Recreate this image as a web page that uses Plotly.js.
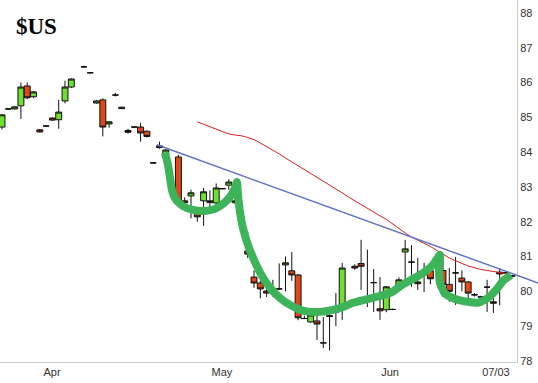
<!DOCTYPE html>
<html>
<head>
<meta charset="utf-8">
<script src="https://cdn.plot.ly/plotly-3.0.1.min.js"></script>
<style>html,body{margin:0;padding:0;background:#fff;}#chart{width:538px;height:383px;}</style>
</head>
<body>
<div id="chart"></div>
<script>
// trading-day sequence numbers (gaps = no session)
const day = [0,1,2,3,4,5,6,7,8,9,10,11,13,14,15,16,17,18,19,20,21,22,23,24,25,26,28,29,30,31,32,33,34,35,36,37,38,39,40,41,42,43,44,45,46,47,48,49,50,51,52,53,54,56,57,58,59,60,61,62,63,64,65,66,67,68,69,70,71,72,73,74,75,76,77,78,79,80,81];
const open = [84.72,85.24,85.24,85.33,85.90,85.59,84.64,84.75,84.98,84.93,85.47,85.87,86.45,86.28,85.41,85.50,84.81,85.64,85.29,84.62,84.72,84.72,84.60,83.69,84.18,83.95,83.86,82.60,82.74,82.25,82.60,82.55,82.54,82.95,83.05,82.55,82.15,81.16,80.41,80.24,80.01,80.00,80.07,80.76,80.59,80.47,79.22,79.12,79.15,78.52,79.30,79.40,79.50,80.72,80.80,79.85,80.25,79.50,79.47,79.48,80.18,81.13,80.84,80.27,80.50,80.59,80.90,80.60,80.20,80.53,80.38,80.27,79.90,79.84,80.12,79.70,80.55,80.53,80.44];
const high = [85.10,85.26,85.31,86.00,86.00,85.75,84.66,84.77,85.00,85.50,86.05,86.12,86.48,86.30,85.49,85.55,84.89,85.70,85.30,84.67,84.74,84.84,84.62,83.71,84.30,84.08,83.92,82.70,82.92,82.42,82.97,82.90,83.10,82.97,83.22,83.20,82.30,81.70,80.60,80.30,80.33,80.33,80.80,81.00,81.13,80.50,79.30,79.35,79.30,79.26,79.35,79.95,80.82,80.78,81.48,81.20,80.64,80.41,80.15,79.50,80.40,81.48,81.33,80.96,80.82,80.70,81.00,80.90,80.67,80.99,80.60,80.30,79.95,79.87,80.33,79.84,80.67,80.56,80.47];
const low = [84.65,85.22,85.23,84.95,85.52,85.55,84.56,84.73,84.90,84.67,85.40,85.84,86.42,86.26,85.39,84.45,84.70,85.60,85.24,84.53,84.70,84.30,84.42,83.67,84.10,83.93,82.45,82.40,82.10,82.00,81.88,82.35,82.45,82.93,82.92,82.50,81.85,80.96,80.10,79.80,79.84,79.85,80.04,80.00,80.30,79.17,79.20,79.10,78.60,78.37,78.30,79.00,79.18,80.62,80.04,79.55,79.41,79.18,79.40,79.46,80.10,80.33,80.13,80.04,79.98,80.20,80.60,79.84,79.70,79.61,80.00,79.75,79.85,79.80,79.41,79.38,79.60,80.50,80.42];
const close = [85.07,85.24,85.30,85.87,85.56,85.73,84.58,84.75,84.92,85.15,85.87,86.10,86.45,86.28,85.47,84.72,84.87,85.64,85.25,84.57,84.72,84.55,84.45,83.69,84.13,84.06,82.50,82.55,82.83,82.14,82.86,82.60,82.97,82.95,83.14,82.60,82.05,81.07,80.24,80.07,79.95,80.00,80.07,80.82,80.47,79.24,79.22,79.32,79.06,78.52,79.28,79.50,80.67,80.67,80.72,79.75,80.25,79.44,80.13,79.48,80.33,81.22,80.84,80.22,80.50,80.36,80.80,80.20,80.00,80.53,80.27,79.95,79.90,79.84,80.12,79.66,80.50,80.53,80.44];

// moving average (red)
const maDay = [31,32,33,34,35,36,37,38,39,40,41,42,43,44,45,46,47,48,49,50,51,52,53,54,55,56,57,58,59,60,61,62,63,64,65,66,67,68,69,70,71,72,73,74,75,76,77,78,79,80];
const maVal = [84.87,84.80,84.71,84.64,84.57,84.52,84.49,84.47,84.42,84.36,84.26,84.16,84.06,83.95,83.83,83.72,83.60,83.50,83.40,83.29,83.17,83.06,82.94,82.83,82.71,82.60,82.48,82.37,82.27,82.17,82.07,81.94,81.79,81.68,81.56,81.48,81.38,81.29,81.19,81.07,80.96,80.87,80.80,80.73,80.67,80.63,80.60,80.57,80.54,80.51];

// blue trend line (drawn beyond the right axis up to trendEnd)
const trendX = [24.6, 81.75];
const trendY = [84.21, 80.46];
const trendEnd = 85.1;

// green hand-drawn cup & handle
const cupX = [25.87,26.35,26.67,26.98,27.62,28.73,30.32,32.22,33.81,35.08,36.19,36.98,37.30,37.46,37.78,38.25,39.05,40.16,41.27,42.54,44.13,45.71,47.30,48.89,50.48,52.54,54.13,55.71,58.10,60.00,61.90,63.49,65.56,67.14,68.41,69.52,69.37,69.52,70.32,71.90,73.97,75.56,77.14,78.57,79.52,80.79];
const cupY = [83.98,83.63,83.26,82.91,82.63,82.45,82.34,82.31,82.37,82.51,82.71,82.97,83.14,82.77,82.28,81.82,81.33,80.84,80.44,80.10,79.81,79.61,79.47,79.41,79.41,79.47,79.55,79.67,79.78,79.87,79.98,80.18,80.39,80.56,80.76,81.05,80.67,80.24,79.93,79.78,79.70,79.67,79.81,80.07,80.30,80.47];

// axis labels
const monthPos = [7.94, 34.9, 61.6, 78.4];
const monthText = ["Apr", "May", "Jun", "07/03"];
const priceTicks = [78,79,80,81,82,83,84,85,86,87,88];

const xRange = [-0.32, 81.75];
const yRange = [77.97, 88.37];

// tail of the trend line past the axis, in paper units derived from the data scale
const slope = (trendY[1] - trendY[0]) / (trendX[1] - trendX[0]);
const px = v => (v - xRange[0]) / (xRange[1] - xRange[0]);
const py = v => (v - yRange[0]) / (yRange[1] - yRange[0]);
const tailY0 = trendY[1];
const tailY1 = trendY[1] + slope * (trendEnd - trendX[1]);

const traces = [
  {
    type: 'candlestick', x: day, open: open, high: high, low: low, close: close,
    increasing: {fillcolor: '#6fe031', line: {color: '#111', width: 1}},
    decreasing: {fillcolor: '#e0481a', line: {color: '#111', width: 1}},
    whiskerwidth: 0, hoverinfo: 'skip', showlegend: false
  },
  {type: 'scatter', mode: 'lines', x: maDay, y: maVal, line: {color: '#d42020', width: 1}, hoverinfo: 'skip', showlegend: false},
  {type: 'scatter', mode: 'lines', x: trendX, y: trendY, line: {color: '#6473c4', width: 1.5}, hoverinfo: 'skip', showlegend: false},
  {type: 'scatter', mode: 'lines', x: cupX, y: cupY, line: {color: '#3db35a', width: 8, shape: 'spline', smoothing: 0.5}, hoverinfo: 'skip', showlegend: false}
];

const layout = {
  width: 538, height: 383,
  margin: {l: 0, r: 21, t: 0, b: 21, pad: 0},
  paper_bgcolor: '#ffffff', plot_bgcolor: '#ffffff',
  boxgap: 0.06, boxgroupgap: 0,
  font: {family: '"Liberation Sans", Arial, sans-serif', size: 11, color: '#333'},
  xaxis: {
    type: 'linear', range: xRange, rangeslider: {visible: false},
    showgrid: false, zeroline: false, showline: true, linecolor: '#cccccc', linewidth: 1,
    tickmode: 'array', tickvals: monthPos, ticktext: monthText, ticks: '',
    tickfont: {size: 11, color: '#333'}, automargin: false, fixedrange: true
  },
  yaxis: {
    range: yRange, side: 'right', showgrid: false, zeroline: false,
    showline: true, linecolor: '#cccccc', linewidth: 1, mirror: false,
    tickmode: 'array', tickvals: priceTicks, ticks: '',
    tickfont: {size: 11, color: '#333'}, automargin: false, fixedrange: true
  },
  shapes: [{
    type: 'line', xref: 'paper', yref: 'paper',
    x0: px(trendX[1]), y0: py(tailY0), x1: px(trendEnd), y1: py(tailY1),
    line: {color: '#6473c4', width: 1.5}
  }],
  annotations: [{
    text: '<b>$US</b>', xref: 'paper', yref: 'paper', x: 0.028, y: 0.968,
    xanchor: 'left', yanchor: 'top', showarrow: false,
    font: {family: '"Liberation Serif", "Times New Roman", serif', size: 23, color: '#000'}
  }],
  showlegend: false
};

Plotly.newPlot('chart', traces, layout, {staticPlot: true, displayModeBar: false});
</script>
</body>
</html>
